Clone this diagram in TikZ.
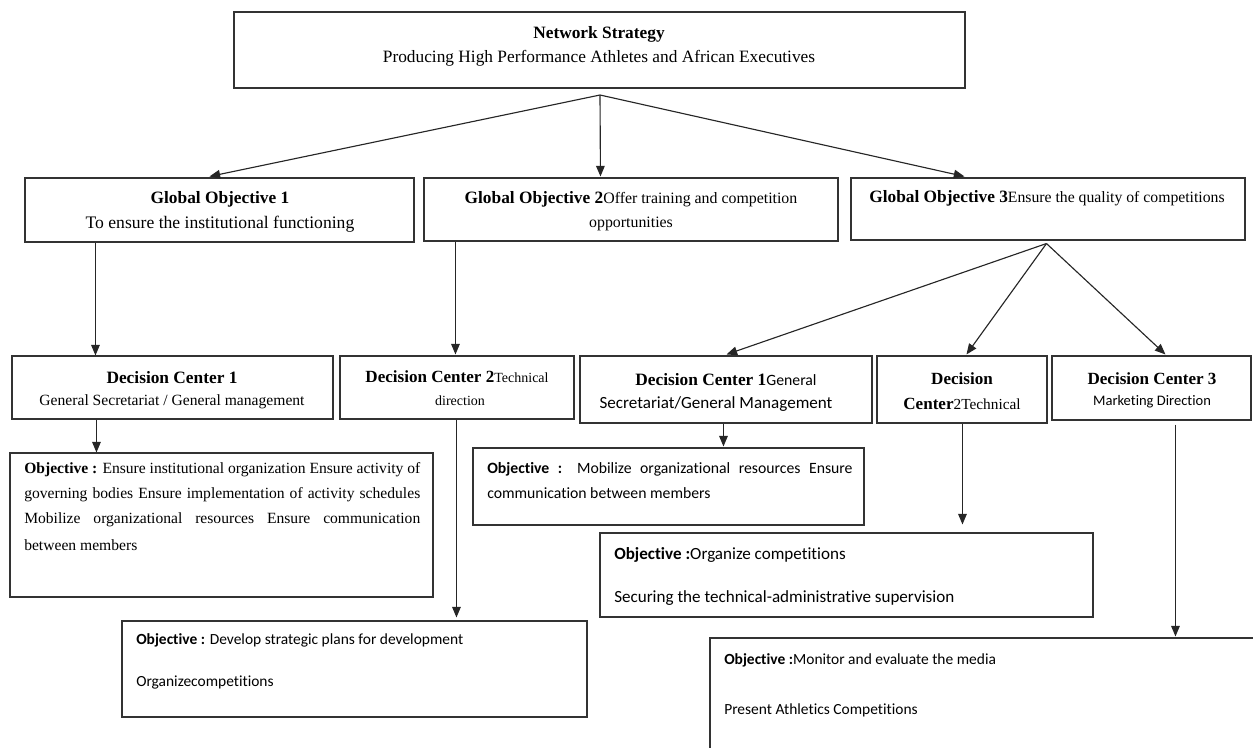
\documentclass[tikz,border=0pt]{standalone}
\usepackage{fontspec}
\setmainfont{Liberation Serif}
\newfontfamily\calfont[Ligatures=NoCommon]{Carlito}
\usetikzlibrary{arrows.meta,fit,calc}
\tikzset{
  box/.style={draw=black!80, line width=0.8pt, inner sep=0pt, fill=none},
  txt/.style={inner sep=0pt, text=black},
  ltxt/.style={inner sep=0pt, anchor=west, text=black},
  arr/.style={draw=black!85, line width=0.85pt, -{Triangle[length=8pt,width=6.5pt]}},
}
\newcommand{\sz}[1]{\fontsize{#1}{#1}\selectfont}
\begin{document}
\begin{tikzpicture}[x=0.75pt,y=-0.75pt]
\useasboundingbox (0,0) rectangle (1253,747);
\clip (0,0) rectangle (1253,747);
% boxes
\node[box, fit={(234,12) (965,88)}] (top) {};
\node[box, fit={(25,178) (414,242)}] (g1) {};
\node[box, fit={(424,178) (838,241)}] (g2) {};
\node[box, fit={(851,178) (1245,240)}] (g3) {};
\node[box, fit={(12,356) (333,419)}] (dc1) {};
\node[box, fit={(340,356) (574,419)}] (dc2) {};
\node[box, fit={(580,356) (872,423)}] (dc1b) {};
\node[box, fit={(877,356) (1047,423)}] (dc2b) {};
\node[box, fit={(1052,356) (1251,420)}] (dc3) {};
\node[box, fit={(10,453) (433,597)}] (o1) {};
\node[box, fit={(473,448) (864,525)}] (o2) {};
\node[box, fit={(122,621) (587,717)}] (o3) {};
\node[box, fit={(600,533) (1093,617)}] (o4) {};
\node[box, fit={(710,638) (1270,770)}] (o5) {};
% texts
\node[txt] (t1) at (599,34) {\sz{13}\textbf{Network Strategy}};
\node[txt] (t2) at (599,58) {\sz{13}Producing High Performance Athletes and African Executives};
\node[txt] (g1a) at (220,199) {\sz{13}\textbf{Global Objective 1}};
\node[txt] (g1b) at (220,224) {\sz{13.2}To ensure the institutional functioning};
\node[txt] (g2a) at (631,199) {\sz{13}\textbf{Global Objective 2}\sz{11.9}Offer training and competition};
\node[txt] (g2b) at (631,224) {\sz{11.9}opportunities};
\node[txt] (g3a) at (1047,198) {\sz{13}\textbf{Global Objective 3}\sz{11.8}Ensure the quality of competitions};
\node[txt] (d1a) at (172,378) {\sz{13}\textbf{Decision Center 1}};
\node[txt] (d1b) at (172,402) {\sz{11.7}General Secretariat / General management};
\node[txt] (d2a) at (457,377) {\sz{12.8}\textbf{Decision Center 2}\sz{10.5}Technical};
\node[txt] (d2b) at (460,401) {\sz{10.5}direction};
\node[txt] (d3a) at (726,380) {\sz{13}\textbf{Decision Center 1}{\calfont\sz{11.8}General}};
\node[txt] (d3b) at (716,404) {\calfont\sz{12.8}Secretariat/General Management};
\node[txt] (d4a) at (962,379) {\sz{12.8}\textbf{Decision}};
\node[txt] (d4b) at (962,404) {\sz{12.8}\textbf{Center}\sz{11.5}2Technical};
\node[txt] (d5a) at (1152,379) {\sz{12.8}\textbf{Decision Center 3}};
\node[txt] (d5b) at (1152,402) {\calfont\sz{10.9}Marketing Direction};
% objective 1
\node[ltxt] (o1a) at (24,470) {\sz{11.7}\makebox[297pt][s]{\textbf{Objective :} Ensure institutional organization Ensure activity of}};
\node[ltxt] (o1b) at (24,495) {\sz{11.7}\makebox[297pt][s]{governing bodies Ensure implementation of activity schedules}};
\node[ltxt] (o1c) at (24,520) {\sz{11.7}\makebox[297pt][s]{Mobilize organizational resources Ensure communication}};
\node[ltxt] (o1d) at (24,545) {\sz{11.7}between members};
% objective 2
\node[ltxt] (o2a) at (487,469) {\calfont\sz{11.8}\makebox[274pt][s]{\textbf{Objective :} Mobilize organizational resources Ensure}};
\node[ltxt] (o2b) at (487,493) {\calfont\sz{11.8}communication between members};
% objective 3
\node[ltxt] (o3a) at (136,640) {\calfont\sz{11.6}\textbf{Objective :} Develop strategic plans for development};
\node[ltxt] (o3b) at (136,682) {\calfont\sz{11.6}Organizecompetitions};
% objective 4
\node[ltxt] (o4a) at (614,555) {\calfont\sz{12.8}\textbf{Objective :}Organize competitions};
\node[ltxt] (o4b) at (614,598) {\calfont\sz{12.8}Securing the technical-administrative supervision};
% objective 5
\node[ltxt] (o5a) at (724,660) {\calfont\sz{11.6}\textbf{Objective :}Monitor and evaluate the media};
\node[ltxt] (o5b) at (724,710) {\calfont\sz{11.6}Present Athletics Competitions};
% connectors
\coordinate (tf) at (600,95);
\draw[arr] (tf) -- ($(g1.north west)+(185,-1)$);
\draw[arr] (tf) -- ($(g2.north west)+(177,-1)$);
\draw[arr] (tf) -- ($(g3.north west)+(114,-1)$);
\draw[arr] ($(g1.south west)+(71,0)$) -- ($(dc1.north west)+(84,0)$);
\draw[arr] ($(g2.south west)+(32,0)$) -- ($(dc2.north west)+(116,-1)$);
\coordinate (g3f) at ($(g3.south west)+(196,3)$);
\draw[arr] (g3f) -- ($(dc1b.north west)+(147,-1)$);
\draw[arr] (g3f) -- ($(dc2b.north west)+(90,-1)$);
\draw[arr] (g3f) -- ($(dc3.north west)+(114,-1)$);
\draw[arr] ($(dc1.south west)+(85,0)$) -- ($(o1.north west)+(87,0)$);
\draw[arr] ($(dc2.south west)+(117,0)$) -- ($(o3.north west)+(335,-3)$);
\draw[arr] ($(dc1b.south west)+(144,0)$) -- ($(o2.north west)+(251,-1)$);
\draw[arr] ($(dc2b.south west)+(86,0)$) -- ($(o4.north west)+(363,-8)$);
\draw[arr] ($(dc3.south west)+(124,4)$) -- ($(o5.north west)+(466,-1)$);
\end{tikzpicture}
\end{document}
